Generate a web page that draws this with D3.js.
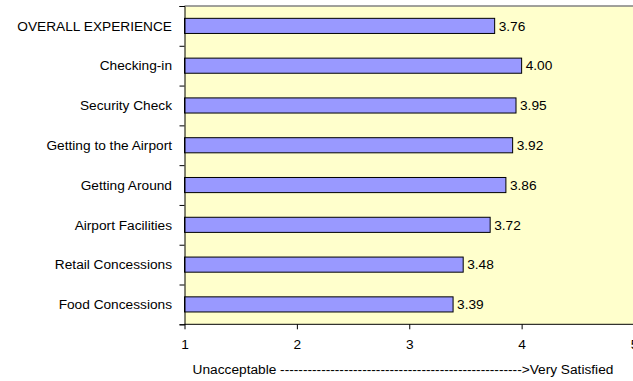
<!DOCTYPE html>
<html>
<head>
<meta charset="utf-8">
<script src="https://cdn.jsdelivr.net/npm/d3@7"></script>
<style>
  body { margin: 0; background: #fff; }
  text { font-family: Arial, "Liberation Sans", sans-serif; fill: #000; }
</style>
</head>
<body>
<script>
// chart values
var categories = ["OVERALL EXPERIENCE", "Checking-in", "Security Check", "Getting to the Airport",
                  "Getting Around", "Airport Facilities", "Retail Concessions", "Food Concessions"];
var scores = [3.76, 4.00, 3.95, 3.92, 3.86, 3.72, 3.48, 3.39];
var xTicks = [1, 2, 3, 4, 5];
var axisTitle = "Unacceptable " + "-".repeat(53) + ">Very Satisfied";

var w = 633, h = 381;
var plotLeft = 184.5, plotTop = 6, plotBottom = 324.3, plotRight = 634;
var fontSize = "13.7px";

var svg = d3.select("body").append("svg")
    .attr("width", w)
    .attr("height", h);

var xScale = d3.scaleLinear().domain([1, 5]).range([plotLeft, plotRight]);
var yScale = d3.scaleBand().domain(categories).range([plotTop, plotBottom])
    .paddingInner(0.62).paddingOuter(0.31);

// plot background
svg.append("rect")
    .attr("x", plotLeft).attr("y", plotTop)
    .attr("width", plotRight - plotLeft).attr("height", plotBottom - plotTop)
    .attr("fill", "#FFFFCC");

svg.append("line")
    .attr("x1", plotLeft).attr("x2", w)
    .attr("y1", plotTop).attr("y2", plotTop)
    .attr("stroke", "#808080").attr("stroke-width", 1.5);

// bars
svg.selectAll("rect.bar")
    .data(scores)
    .enter().append("rect")
    .attr("class", "bar")
    .attr("x", xScale(1))
    .attr("y", function(d, i) { return yScale(categories[i]); })
    .attr("width", function(d) { return xScale(d) - xScale(1); })
    .attr("height", yScale.bandwidth())
    .attr("fill", "#9999FF")
    .attr("stroke", "#000")
    .attr("stroke-width", 1);

// value labels
svg.selectAll("text.val")
    .data(scores)
    .enter().append("text")
    .attr("class", "val")
    .attr("x", function(d) { return xScale(d) + 4; })
    .attr("y", function(d, i) { return yScale(categories[i]) + yScale.bandwidth() / 2; })
    .attr("dy", "0.35em")
    .style("font-size", fontSize)
    .text(function(d) { return d.toFixed(2); });

// y axis with ticks at category boundaries
var yEdges = d3.scaleLinear().domain([0, categories.length]).range([plotTop, plotBottom]);
var yAxis = svg.append("g")
    .attr("transform", "translate(" + plotLeft + ",0)")
    .call(d3.axisLeft(yEdges).ticks(categories.length).tickSize(5).tickFormat(""));
yAxis.select(".domain").attr("stroke", "#000");

svg.selectAll("text.cat")
    .data(categories)
    .enter().append("text")
    .attr("class", "cat")
    .attr("x", 172)
    .attr("y", function(d) { return yScale(d) + yScale.bandwidth() / 2; })
    .attr("dy", "0.35em")
    .attr("text-anchor", "end")
    .style("font-size", fontSize)
    .text(function(d) { return d; });

// x axis
var xAxis = svg.append("g")
    .attr("transform", "translate(0," + plotBottom + ")")
    .call(d3.axisBottom(xScale).tickValues(xTicks).tickSize(5).tickPadding(10).tickFormat(d3.format("d")));
xAxis.selectAll("text").style("font-size", fontSize).attr("fill", "#000");
xAxis.select(".domain").attr("d", "M" + plotLeft + ",0H" + w);

svg.append("text")
    .attr("x", 403)
    .attr("y", 369)
    .attr("dy", "0.35em")
    .attr("text-anchor", "middle")
    .style("font-size", fontSize)
    .text(axisTitle);
</script>
</body>
</html>
